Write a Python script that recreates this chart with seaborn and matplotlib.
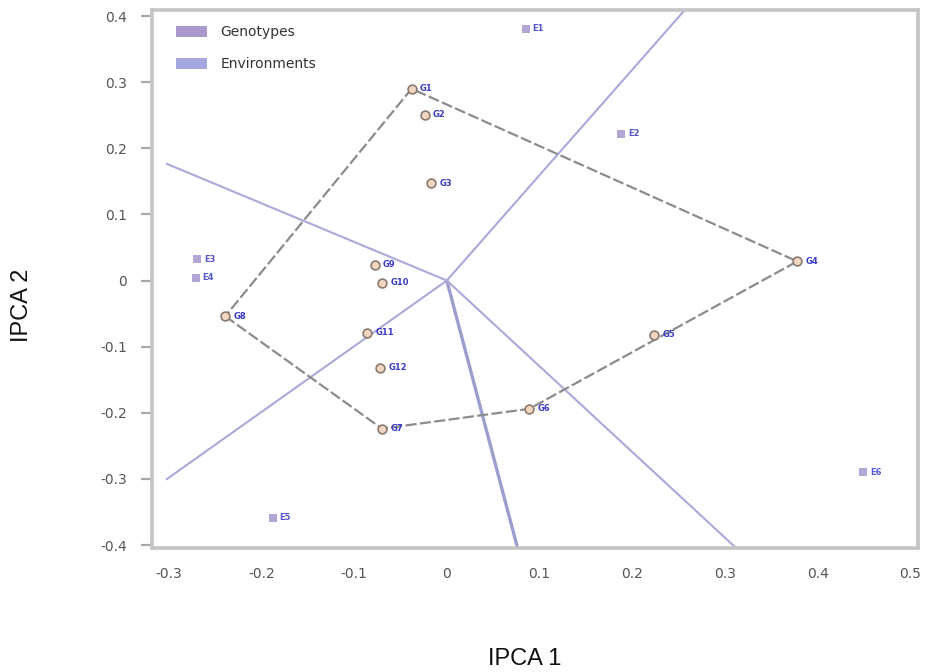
import numpy as np
import pandas as pd
import matplotlib
matplotlib.use("Agg")
import matplotlib.pyplot as plt
from matplotlib.patches import Patch
import seaborn as sns

# Genotype scores on the first two interaction principal components
geno_labels = ["G1", "G2", "G3", "G4", "G5", "G6", "G7", "G8", "G9", "G10", "G11", "G12"]
geno_ipca1 = [-0.038, -0.024, -0.017, 0.378, 0.224, 0.089, -0.070, -0.239, -0.078, -0.070, -0.086, -0.072]
geno_ipca2 = [0.290, 0.251, 0.147, 0.029, -0.082, -0.194, -0.224, -0.054, 0.024, -0.003, -0.079, -0.132]

# Environment scores
env_labels = ["E1", "E2", "E3", "E4", "E5", "E6"]
env_ipca1 = [0.085, 0.188, -0.269, -0.271, -0.188, 0.449]
env_ipca2 = [0.381, 0.222, 0.032, 0.004, -0.359, -0.290]

xticks = [-0.3, -0.2, -0.1, 0, 0.1, 0.2, 0.3, 0.4, 0.5]
yticks = [0.4, 0.3, 0.2, 0.1, 0, -0.1, -0.2, -0.3, -0.4]

geno = pd.DataFrame({"label": geno_labels, "IPCA1": geno_ipca1, "IPCA2": geno_ipca2})
env = pd.DataFrame({"label": env_labels, "IPCA1": env_ipca1, "IPCA2": env_ipca2})


def convex_hull(pts):
    pts = sorted(set(map(tuple, pts)))

    def cross(o, a, b):
        return (a[0] - o[0]) * (b[1] - o[1]) - (a[1] - o[1]) * (b[0] - o[0])

    lower, upper = [], []
    for p in pts:
        while len(lower) >= 2 and cross(lower[-2], lower[-1], p) <= 0:
            lower.pop()
        lower.append(p)
    for p in reversed(pts):
        while len(upper) >= 2 and cross(upper[-2], upper[-1], p) <= 0:
            upper.pop()
        upper.append(p)
    return np.array(lower[:-1] + upper[:-1])


sns.set_theme(style="white")
plt.rcParams["font.family"] = ["DejaVu Sans"]

fig = plt.figure(figsize=(9.27, 6.72), dpi=100)
ax = fig.add_axes([0.164, 0.1845, 0.826, 0.8005])

xlim = (-0.318, 0.508)
ylim = (-0.4045, 0.409)
ax.set_xlim(*xlim)
ax.set_ylim(*ylim)

# Which-won-where polygon around the outermost genotypes
hull = convex_hull(geno[["IPCA1", "IPCA2"]].to_numpy())
closed = np.vstack([hull, hull[:1]])
poly = pd.DataFrame({"x": closed[:, 0], "y": closed[:, 1], "o": np.arange(len(closed))})
sns.lineplot(data=poly, x="x", y="y", sort=False, estimator=None, ax=ax,
             color="#8c8c8c", lw=1.6, dashes=False, linestyle=(0, (5, 1.5)), zorder=2)

# Sector rays perpendicular to each polygon side
box = (-0.303, 0.508, -0.4045, 0.409)
for i in range(len(hull)):
    a, b = hull[i], hull[(i + 1) % len(hull)]
    d = b - a
    t = -np.dot(a, d) / np.dot(d, d)
    foot = a + t * d
    u = foot / np.linalg.norm(foot)
    ts = []
    if u[0] > 0:
        ts.append(box[1] / u[0])
    elif u[0] < 0:
        ts.append(box[0] / u[0])
    if u[1] > 0:
        ts.append(box[3] / u[1])
    elif u[1] < 0:
        ts.append(box[2] / u[1])
    end = u * min(ts)
    steep = abs(u[1]) > 3 * abs(u[0])
    ax.plot([0, end[0]], [0, end[1]], color="#9d9dd0" if steep else "#a9a9da",
            lw=2.4 if steep else 1.5, zorder=1, solid_capstyle="butt")

# Genotype markers with labels
sns.scatterplot(data=geno, x="IPCA1", y="IPCA2", ax=ax, marker="o", s=40,
                color="#f2d6c0", edgecolor="#8a7a70", linewidth=1.2, zorder=4, legend=False)
for _, r in geno.iterrows():
    ax.annotate(r["label"], (r["IPCA1"], r["IPCA2"]), xytext=(6, 0), textcoords="offset points",
                fontsize=6, color="#3b3bc8", ha="left", va="center", fontweight="bold", zorder=5)

# Environment markers with labels
sns.scatterplot(data=env, x="IPCA1", y="IPCA2", ax=ax, marker="s", s=36,
                color="#b3a6d6", edgecolor="#b3a6d6", linewidth=0, zorder=4, legend=False)
for _, r in env.iterrows():
    ax.annotate(r["label"], (r["IPCA1"], r["IPCA2"]), xytext=(5, 0), textcoords="offset points",
                fontsize=6, color="#5555d2", ha="left", va="center", fontweight="bold", zorder=5)

ax.set_xticks(xticks)
ax.set_yticks(yticks)
ax.set_xticklabels([f"{v:g}" for v in xticks])
ax.set_yticklabels([f"{v:g}" for v in yticks])
ax.tick_params(axis="y", which="major", direction="out", length=8, width=1.6, color="#a8a8a8",
               labelsize=10, labelcolor="#555555", pad=10, left=True)
ax.tick_params(axis="x", which="major", length=0, labelsize=10, labelcolor="#555555", pad=14)

for s in ax.spines.values():
    s.set_color("#c4c4c4")
    s.set_linewidth(2.6)

ax.set_xlabel("IPCA 1", fontsize=17, family="Liberation Sans", color="#111111")
ax.set_ylabel("IPCA 2", fontsize=17, family="Liberation Sans", color="#111111")
ax.xaxis.set_label_coords(0.487, -0.186)
ax.yaxis.set_label_coords(-0.155, 0.452)

handles = [Patch(facecolor="#a898cc", edgecolor="none"), Patch(facecolor="#a6a6de", edgecolor="none")]
ax.legend(handles, ["Genotypes", "Environments"], loc="upper left", bbox_to_anchor=(0.015, 0.995),
          frameon=False, fontsize=10, handlelength=2.2, handleheight=0.8, labelspacing=1.3,
          handletextpad=1.0, labelcolor="#333333")

fig.savefig("out.png", dpi=100)
